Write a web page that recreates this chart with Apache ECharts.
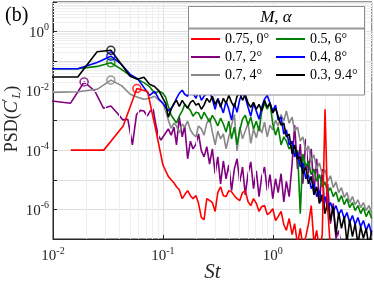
<!DOCTYPE html>
<html><head><meta charset="utf-8">
<script src="https://cdn.jsdelivr.net/npm/echarts@6/dist/echarts.min.js"></script>
<style>html,body{margin:0;padding:0;background:#fff}#c{width:374px;height:281px}</style>
</head><body><div id="c"></div><script>
// ---- data (St, PSD) ----
const stLow4 = [0.0084, 0.0168, 0.0252, 0.0336, 0.042, 0.0504, 0.0588, 0.0672, 0.0756, 0.084, 0.0924];
const blackLow = [2.95e-2, 2.95e-2, 0.209, 0.234, 0.0776, 0.0309, 0.0245, 0.0288, 0.0166, 0.0141, 0.0098];
const blueLow  = [5.6e-2, 5.6e-2, 9.1e-2, 0.148, 7.8e-2, 3.6e-2, 2.6e-2, 1.3e-2, 7.1e-3, 9.6e-3, 5.2e-3];
const greenLow = [5.6e-2, 5.6e-2, 6.7e-2, 8.9e-2, 5.3e-2, 3.3e-2, 2.45e-2, 1.9e-2, 1.4e-2, 8.3e-3, 9.8e-3];
const grayLow  = [8.8e-3, 9.3e-3, 1.13e-2, 2.3e-2, 1.5e-2, 7.7e-3, 6.1e-3, 5.2e-3, 5.6e-3, 6.6e-3, 4.8e-3];
const stPurpleLow = [0.0096, 0.0144, 0.0192, 0.024, 0.0288, 0.0336, 0.0384, 0.0432, 0.048, 0.0528, 0.0576, 0.0624, 0.0672, 0.072, 0.0768, 0.0816, 0.0864, 0.0912, 0.096];
const purpleLow = [4.6e-3, 3.8e-3, 2.0e-2, 9.9e-3, 2.6e-3, 3.1e-3, 1.8e-3, 1.05e-3, 1.1e-3, 1.5e-4, 1.6e-3, 2.2e-3, 2.1e-3, 1.4e-3, 2.1e-3, 2.4e-3, 7.0e-4, 3.0e-4, 2.2e-4];
const stRedLow = [0.0145, 0.029, 0.0435, 0.058, 0.0725, 0.087];
const redLow = [1.0e-4, 1.0e-4, 6.5e-4, 1.2e-2, 9.6e-3, 4.1e-4];

const stHigh = [0.1, 0.106, 0.112, 0.119, 0.126, 0.133, 0.141, 0.15, 0.158, 0.168,
  0.178, 0.188, 0.2, 0.211, 0.224, 0.237, 0.251, 0.266, 0.282, 0.299,
  0.316, 0.335, 0.355, 0.376, 0.398, 0.422, 0.447, 0.473, 0.501, 0.531,
  0.562, 0.596, 0.631, 0.668, 0.708, 0.75, 0.794, 0.841, 0.891, 0.944,
  1.0, 1.06, 1.12, 1.19, 1.26, 1.33, 1.41, 1.5, 1.58, 1.68,
  1.78, 1.88, 2.0, 2.11, 2.24, 2.37, 2.51, 2.66, 2.82, 2.99,
  3.16, 3.35, 3.55, 3.76, 3.98, 4.22, 4.47, 4.73, 5.01, 5.31,
  5.62, 5.96, 6.31, 6.68, 7.08, 7.5, 7.94];
const blackHigh = [5.6e-3, 3.8e-3, 1.3e-3, 2.4e-3, 3.8e-3, 4.8e-3, 3.0e-3, 4.8e-3, 3.5e-3, 2.6e-3,
  4.1e-3, 4.8e-3, 3.3e-3, 3.8e-3, 2.4e-3, 3.3e-3, 5.6e-3, 4.1e-3, 6.6e-3, 3.5e-3,
  5.2e-3, 2.8e-3, 5.6e-3, 3.8e-3, 7.1e-3, 4.1e-3, 2.8e-3, 6.6e-3, 8.3e-3, 4.8e-3,
  7.7e-3, 3.8e-3, 2.8e-3, 4.1e-3, 2.4e-3, 3.5e-3, 2.1e-3, 4.8e-3, 2.8e-3, 3.8e-3,
  1.8e-3, 2.6e-3, 1.4e-3, 7.0e-4, 8.2e-4, 2.8e-4, 3.5e-4, 7.4e-5, 1.5e-4, 5.1e-5,
  5.9e-5, 1.6e-5, 2.7e-5, 7.3e-6, 1.3e-5, 3.1e-6, 5.8e-6, 1.6e-6, 3.1e-6, 7.2e-7,
  1.8e-6, 4.2e-7, 1.25e-6, 1.4e-7, 7.8e-7, 2.3e-7, 5.7e-7, 7.6e-8, 4.5e-7, 1.2e-7,
  3.3e-7, 6.6e-8, 2.6e-7, 1.05e-7, 2.3e-7, 5.6e-8, 1.95e-7];
const blueHigh = [3.8e-3, 2.8e-3, 2.1e-3, 2.6e-3, 3.5e-3, 5.6e-3, 8.3e-3, 1.05e-2, 7.7e-3, 6.6e-3,
  1.13e-2, 8.3e-3, 5.6e-3, 9.6e-3, 4.8e-3, 6.6e-3, 8.3e-3, 9.6e-3, 5.2e-3, 2.4e-3,
  5.6e-3, 3.3e-3, 1.8e-3, 4.5e-3, 2.4e-3, 1.03e-3, 3.8e-3, 1.9e-3, 5.2e-3, 8.3e-3,
  6.1e-3, 2.8e-3, 1.4e-3, 3.8e-3, 2.1e-3, 1.1e-3, 2.8e-3, 5.2e-3, 7.1e-3, 3.8e-3,
  2.1e-3, 3.3e-3, 1.03e-3, 1.3e-3, 3.5e-4, 4.8e-4, 1.5e-4, 2.0e-4, 5.9e-5, 8.7e-5,
  2.7e-5, 3.7e-5, 1.08e-5, 1.5e-5, 5.0e-6, 7.3e-6, 2.7e-6, 4.3e-6, 1.8e-6, 2.7e-6,
  1.06e-6, 1.7e-6, 8.5e-7, 1.34e-6, 6.7e-7, 9.8e-7, 4.9e-7, 7.8e-7, 3.6e-7, 6.2e-7,
  3.1e-7, 5.3e-7, 2.6e-7, 4.2e-7, 1.95e-7, 3.3e-7, 1.4e-7];
const greenHigh = [8.3e-3, 6.1e-3, 3.0e-3, 1.5e-3, 1.1e-3, 8.2e-4, 1.4e-3, 2.1e-3, 3.5e-3, 2.8e-3,
  2.2e-3, 1.4e-3, 1.9e-3, 1.8e-3, 1.1e-3, 1.9e-3, 1.3e-3, 8.8e-4, 1.5e-3, 1.03e-3,
  6.5e-4, 1.2e-3, 7.6e-4, 4.1e-4, 9.5e-4, 2.4e-4, 6.0e-4, 1.5e-4, 4.8e-4, 1.1e-3,
  1.5e-3, 7.0e-4, 1.3e-3, 5.2e-4, 9.5e-4, 4.4e-4, 2.1e-3, 3.8e-3, 2.4e-3, 4.1e-3,
  7.6e-4, 3.2e-4, 6.0e-4, 1.5e-4, 2.8e-4, 2.0e-4, 1.1e-4, 1.5e-4, 6.9e-5, 1.0e-4,
  7.2e-7, 7.4e-5, 2.7e-5, 4.3e-5, 1.5e-5, 2.3e-5, 8.8e-6, 1.5e-5, 5.8e-6, 8.5e-6,
  3.7e-6, 5.4e-6, 2.7e-6, 3.9e-6, 1.8e-6, 2.9e-6, 1.45e-6, 2.3e-6, 1.15e-6, 1.7e-6,
  9.1e-7, 1.34e-6, 7.2e-7, 1.15e-6, 5.7e-7, 9.1e-7, 4.9e-7];
const grayHigh = [3.8e-3, 2.1e-3, 1.03e-3, 5.5e-4, 8.2e-4, 6.5e-4, 3.8e-4, 7.6e-4, 6.0e-4, 9.5e-4,
  4.8e-4, 3.5e-4, 2.8e-4, 6.5e-4, 5.2e-4, 3.2e-4, 8.2e-4, 1.2e-3, 4.1e-4, 1.5e-4,
  4.4e-4, 2.4e-4, 3.5e-4, 1.1e-4, 2.8e-4, 7.0e-4, 1.6e-3, 9.4e-5, 6.0e-4, 2.4e-4,
  4.4e-4, 8.2e-4, 1.7e-4, 5.2e-4, 2.6e-4, 6.5e-4, 3.8e-4, 8.8e-4, 2.8e-4, 7.0e-4,
  4.8e-4, 1.03e-3, 6.5e-4, 1.6e-3, 9.5e-4, 2.1e-3, 8.2e-4, 1.3e-3, 4.4e-4, 6.0e-4,
  2.0e-4, 2.8e-4, 9.4e-5, 1.4e-4, 4.3e-5, 6.9e-5, 2.3e-5, 3.7e-5, 1.5e-5, 2.2e-5,
  8.8e-6, 1.36e-5, 5.4e-6, 8.5e-6, 3.7e-6, 5.4e-6, 2.5e-6, 3.7e-6, 1.7e-6, 2.7e-6,
  1.45e-6, 2.1e-6, 1.15e-6, 1.7e-6, 9.1e-7, 1.34e-6, 7.8e-7];
const purpleHigh = [2.4e-4, 3.8e-4, 5.2e-4, 3.2e-4, 6.0e-4, 1.5e-4, 1.3e-3, 2.8e-4, 6.5e-4, 5.1e-5,
  2.0e-4, 1.1e-4, 1.6e-4, 3.5e-4, 9.4e-5, 5.9e-5, 1.3e-4, 3.4e-5, 1.1e-4, 1.6e-5,
  5.9e-5, 7.3e-6, 4.3e-5, 1.08e-5, 3.2e-5, 4.3e-6, 2.3e-5, 5.1e-5, 8.5e-6, 2.7e-5,
  3.1e-6, 1.6e-5, 4.0e-5, 5.0e-6, 2.0e-5, 2.7e-6, 1.3e-5, 2.7e-5, 4.3e-6, 1.5e-5,
  2.3e-6, 1.08e-5, 3.7e-6, 1.6e-5, 1.8e-6, 8.8e-6, 2.7e-6, 3.4e-5, 7.0e-4, 2.3e-5,
  1.6e-4, 7.3e-6, 2.4e-4, 1.6e-5, 1.1e-4, 3.4e-6, 5.1e-5, 1.6e-6, 2.3e-5, 7.2e-7,
  7.3e-6, 3.3e-7, 1.6e-6, 1.05e-7, 1.95e-7, 4.8e-8];
const redHigh = [3.2e-5, 2.0e-5, 1.3e-5, 1.0e-5, 7.9e-6, 5.8e-6, 4.6e-6, 2.3e-6, 3.1e-6, 4.3e-6,
  2.9e-6, 2.3e-6, 2.9e-6, 1.6e-6, 5.3e-7, 4.5e-7, 2.3e-6, 2.0e-6, 1.7e-6, 8.5e-7,
  3.7e-6, 5.8e-6, 2.9e-6, 2.7e-6, 4.3e-6, 3.9e-6, 2.9e-6, 2.3e-6, 2.0e-6, 3.7e-6,
  4.3e-6, 1.8e-6, 1.34e-6, 2.3e-6, 1.6e-6, 8.5e-7, 1.25e-6, 1.34e-6, 6.7e-7, 7.8e-7,
  1.06e-6, 4.2e-7, 5.7e-7, 8.5e-7, 3.1e-7, 1.95e-7, 4.9e-7, 1.4e-7, 3.3e-7, 6.6e-8,
  2.3e-7, 5.6e-8, 1.2e-7, 3.1e-7, 1.34e-6, 7.1e-8, 1.95e-7, 4.1e-8, 1.4e-7, 2.4e-3,
  1.06e-6, 4.8e-8, 1.9e-8];

// peak markers: red, purple, gray, green, blue, black
const peakSt  = [0.058, 0.0192, 0.0336, 0.0336, 0.0336, 0.0336];
const peakPsd = [1.2e-2, 2.0e-2, 2.3e-2, 8.9e-2, 0.148, 0.234];

const names  = ['0.75, 0°', '0.7, 2°', '0.7, 4°', '0.5, 6°', '0.4, 8°', '0.3, 9.4°'];
const colors = ['#ff0000', '#800080', '#888888', '#008000', '#0000ff', '#000000'];
const legendOrder = ['0.75, 0°', '0.5, 6°', '0.7, 2°', '0.4, 8°', '0.7, 4°', '0.3, 9.4°'];

// ---- build ----
const FONT = '"Liberation Serif", "DejaVu Serif", serif';
function pairs(st, psd) { return psd.map((v, i) => [st[i], v]); }
const seriesData = [
  pairs(stRedLow, redLow).concat(pairs(stHigh, redHigh)),
  pairs(stPurpleLow, purpleLow).concat(pairs(stHigh, purpleHigh)),
  pairs(stLow4, grayLow).concat(pairs(stHigh, grayHigh)),
  pairs(stLow4, greenLow).concat(pairs(stHigh, greenHigh)),
  pairs(stLow4, blueLow).concat(pairs(stHigh, blueHigh)),
  pairs(stLow4, blackLow).concat(pairs(stHigh, blackHigh))
];
const drawOrder = [1, 2, 3, 4, 5, 0];

const xMinor = [], yMinor = [];
[0.01, 0.1, 1].forEach(d => { for (let m = 2; m <= 9; m++) { const v = m * d; if (v < 8) xMinor.push(v); } });
[1e-7, 1e-6, 1e-5, 1e-4, 1e-3, 1e-2, 1e-1, 1].forEach(d => { for (let m = 2; m <= 9; m++) yMinor.push(m * d); });

function powLabel(v, evenOnly) {
  const l = Math.log10(v), e = Math.round(l);
  if (Math.abs(l - e) > 1e-6) return '';
  if (evenOnly && e % 2 !== 0) return '';
  return '{b|10}{s|' + e + '}';
}
const labelRich = {
  b: { fontFamily: FONT, fontSize: 15, color: '#262626', lineHeight: 18, verticalAlign: 'bottom' },
  s: { fontFamily: FONT, fontSize: 10, color: '#262626', lineHeight: 11, verticalAlign: 'top' }
};

const series = [{
  type: 'line', name: 'minorGrid', data: [], z: 1, silent: true,
  markLine: {
    silent: true, symbol: ['none', 'none'], label: { show: false }, animation: false,
    lineStyle: { color: '#eeeeee', width: 1, type: 'solid' },
    emphasis: { disabled: true },
    data: xMinor.map(v => ({ xAxis: v })).concat(yMinor.map(v => ({ yAxis: v })))
  }
}];
drawOrder.forEach(i => {
  series.push({
    type: 'line', name: names[i], data: seriesData[i], showSymbol: false, symbol: 'none',
    clip: true, z: 3 + series.length,
    lineStyle: { color: colors[i], width: 1.6 }, itemStyle: { color: colors[i] },
    emphasis: { disabled: true }
  });
});
series.push({
  type: 'scatter', name: 'peaks', z: 20, symbol: 'circle', symbolSize: 8,
  data: peakSt.map((s, i) => ({
    value: [s, peakPsd[i]],
    itemStyle: { color: 'rgba(255,255,255,0)', borderColor: colors[i], borderWidth: 1.6 }
  }))
});

const option = {
  animation: false,
  backgroundColor: '#ffffff',
  grid: { left: 53, right: 2, top: 2, bottom: 42, containLabel: false, outerBoundsMode: 'none',
    show: true, borderColor: '#262626', borderWidth: 1, backgroundColor: '#ffffff' },
  xAxis: {
    type: 'log', logBase: 10, min: 0.01, max: 8,
    name: 'St', nameLocation: 'middle', nameGap: 23, nameMoveOverlap: false,
    nameTextStyle: { fontFamily: FONT, fontStyle: 'italic', fontSize: 21, color: '#262626' },
    axisLine: { show: true, lineStyle: { color: '#262626', width: 1 } },
    axisTick: { show: true, inside: true, length: 4, lineStyle: { color: '#262626' } },
    axisLabel: { margin: 7, showMaxLabel: false, formatter: v => powLabel(v, false), rich: labelRich },
    splitLine: { show: true, lineStyle: { color: '#dddddd', width: 1 } }
  },
  yAxis: {
    type: 'log', logBase: 10, min: 1e-7, max: 10,
    axisLine: { show: true, lineStyle: { color: '#262626', width: 1 } },
    axisTick: { show: true, inside: true, length: 4, lineStyle: { color: '#262626' } },
    axisLabel: { margin: 4, formatter: v => powLabel(v, true), rich: labelRich },
    splitLine: { show: true, lineStyle: { color: '#dddddd', width: 1 } }
  },
  legend: {
    data: legendOrder, left: 191, top: 31, width: 172, padding: 0, z: 30,
    orient: 'horizontal', icon: 'rect', itemWidth: 29, itemHeight: 2, itemGap: 2,
    selectedMode: false,
    textStyle: { fontFamily: FONT, fontSize: 14, color: '#000', width: 49, lineHeight: 16 }
  },
  graphic: [
    { type: 'rect', z: 25, silent: true, shape: { x: 188.5, y: 6.5, width: 176, height: 88.5 },
      style: { fill: '#ffffff', stroke: '#8c8c8c', lineWidth: 1 } },
    { type: 'line', z: 26, silent: true, shape: { x1: 189, y1: 28.5, x2: 364, y2: 28.5 },
      style: { stroke: '#9a9a9a', lineWidth: 2 } },
    { type: 'text', z: 26, silent: true, x: 276, y: 18,
      style: { text: '{i|M}, {i|α}', fontFamily: FONT, fontSize: 17, fill: '#000',
        align: 'center', verticalAlign: 'middle', textAlign: 'center', textVerticalAlign: 'middle',
        rich: { i: { fontFamily: FONT, fontSize: 17, fontStyle: 'italic', fill: '#000' } } } },
    { type: 'text', z: 26, silent: true, x: 5, y: 6,
      style: { text: '(b)', fontFamily: FONT, fontSize: 20, fill: '#000' } },
    { type: 'text', z: 26, silent: true, x: 12, y: 119, rotation: Math.PI / 2,
      style: {
        text: '{n|PSD(}{i|C}{p|′}{u|L}{n|)}', fontFamily: FONT, fontSize: 18, fill: '#262626',
        align: 'center', verticalAlign: 'middle', textAlign: 'center', textVerticalAlign: 'middle',
        rich: {
          n: { fontFamily: FONT, fontSize: 18, fill: '#262626', lineHeight: 22, verticalAlign: 'middle' },
          i: { fontFamily: FONT, fontSize: 18, fontStyle: 'italic', fill: '#262626', lineHeight: 22, verticalAlign: 'middle' },
          p: { fontFamily: FONT, fontSize: 12, fill: '#262626', lineHeight: 12, verticalAlign: 'top' },
          u: { fontFamily: FONT, fontSize: 12, fontStyle: 'italic', fill: '#262626', lineHeight: 12, verticalAlign: 'bottom' }
        }
      } }
  ],
  series: series
};
const chart = echarts.init(document.getElementById('c'), null, { renderer: 'canvas' });
chart.setOption(option);
</script></body></html>
